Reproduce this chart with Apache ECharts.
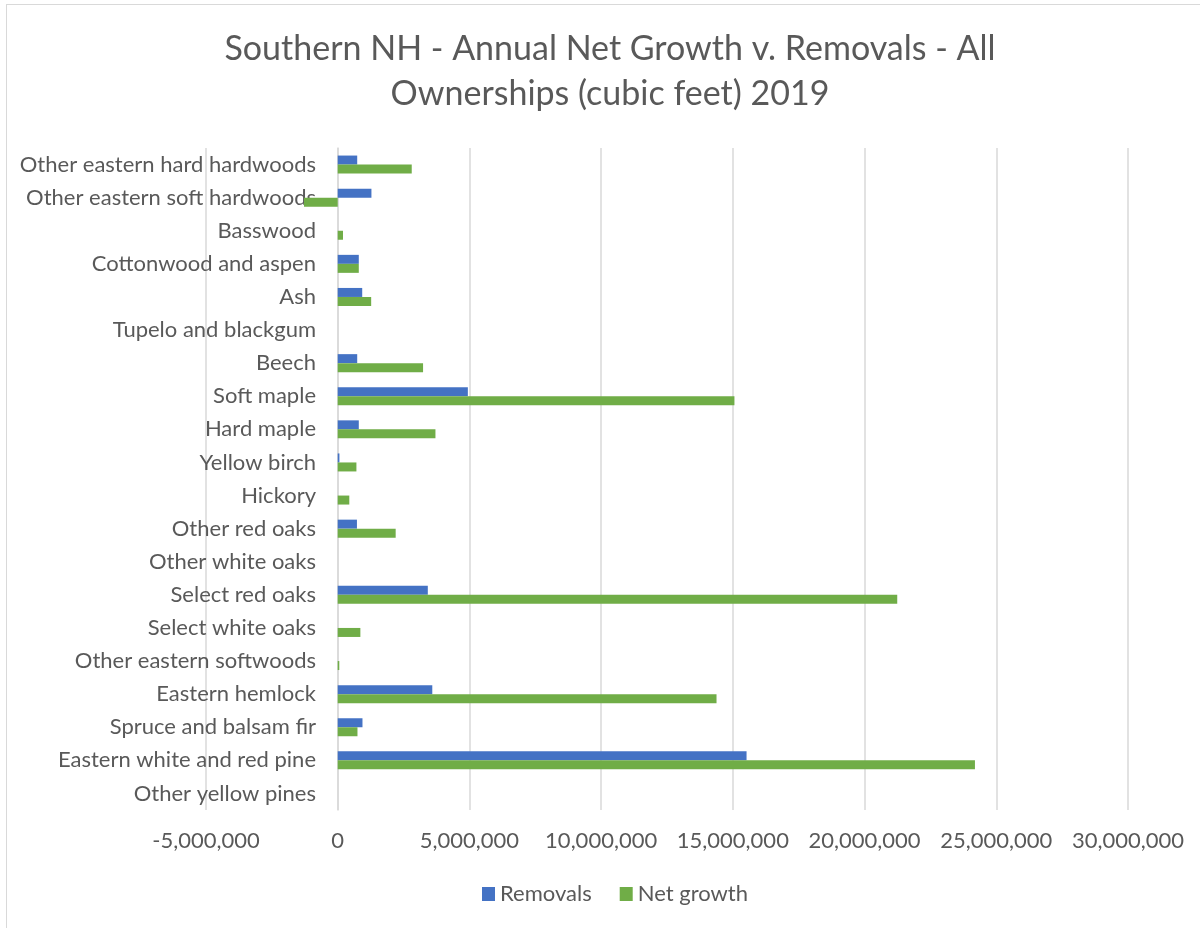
<!DOCTYPE html>
<html>
<head>
<meta charset="utf-8">
<script src="https://cdn.jsdelivr.net/npm/echarts@6/dist/echarts.min.js"></script>
<style>
  html, body { margin: 0; padding: 0; background: #fff; }
  #frame { position: absolute; left: 6px; top: 4px; width: 1200px; height: 930px; border-left: 1px solid #d9d9d9; border-top: 1px solid #d9d9d9; }
  #chart { position: absolute; left: 0; top: 0; width: 1200px; height: 928px; }
</style>
</head>
<body>
<div id="frame"></div>
<div id="chart"></div>
<script>
// Categorias (de baixo para cima, como no Excel)
const categorias = [
    "Other yellow pines",
    "Eastern white and red pine",
    "Spruce and balsam fir",
    "Eastern hemlock",
    "Other eastern softwoods",
    "Select white oaks",
    "Select red oaks",
    "Other white oaks",
    "Other red oaks",
    "Hickory",
    "Yellow birch",
    "Hard maple",
    "Soft maple",
    "Beech",
    "Tupelo and blackgum",
    "Ash",
    "Cottonwood and aspen",
    "Basswood",
    "Other eastern soft hardwoods",
    "Other eastern hard hardwoods"
];

// Remoções anuais (pés cúbicos)
const removals = [
    0, 15520000, 940000, 3590000, 0, 0, 3420000, 0, 730000, 0,
    65000, 800000, 4940000, 740000, 0, 930000, 800000, 0, 1280000, 740000
];

// Crescimento líquido anual (pés cúbicos)
const netGrowth = [
    0, 24190000, 750000, 14380000, 60000, 860000, 21240000, 0, 2200000, 440000,
    710000, 3710000, 15060000, 3240000, 0, 1270000, 800000, 200000, -1280000, 2810000
];

const tituloLinhas = ["Southern NH - Annual Net Growth v. Removals - All", "Ownerships (cubic feet) 2019"];

const fonte = "Lato, 'Open Sans', sans-serif";
const corTexto = "#595959";

const chart = echarts.init(document.getElementById("chart"));
chart.setOption({
    animation: false,
    textStyle: { fontFamily: fonte },
    title: {
        text: tituloLinhas.join("\n"),
        left: 605,
        textAlign: "center",
        top: 22,
        textStyle: {
            fontFamily: fonte,
            fontSize: 34,
            fontWeight: "normal",
            color: corTexto,
            lineHeight: 45
        }
    },
    legend: {
        bottom: 18,
        left: 477,
        itemWidth: 13,
        itemHeight: 14,
        itemGap: 28,
        icon: "rect",
        textStyle: { fontFamily: fonte, fontSize: 22, color: corTexto }
    },
    grid: {
        left: 206,
        right: 72,
        top: 148,
        height: 662,
        outerBoundsMode: "none",
        containLabel: false
    },
    xAxis: {
        type: "value",
        min: -5000000,
        max: 30000000,
        interval: 5000000,
        axisLine: { show: false },
        axisTick: { show: false },
        axisLabel: {
            fontFamily: fonte,
            fontSize: 22,
            color: corTexto,
            margin: 20,
            formatter: v => v.toLocaleString("en-US")
        },
        splitLine: { show: true, lineStyle: { color: "#d9d9d9", width: 1.5 } }
    },
    yAxis: {
        type: "category",
        data: categorias,
        axisLine: { show: true, onZero: true, lineStyle: { color: "#d9d9d9", width: 1.5 } },
        axisTick: { show: false },
        axisLabel: {
            fontFamily: fonte,
            fontSize: 22,
            color: corTexto,
            // rótulos encostados no eixo do zero, como no Excel
            margin: -110
        }
    },
    series: [
        {
            name: "Removals",
            type: "bar",
            data: removals,
            barWidth: 9,
            barGap: "0%",
            itemStyle: { color: "#4472C4" }
        },
        {
            name: "Net growth",
            type: "bar",
            data: netGrowth,
            barWidth: 9,
            barGap: "0%",
            itemStyle: { color: "#70AD47" }
        }
    ]
});
</script>
</body>
</html>
